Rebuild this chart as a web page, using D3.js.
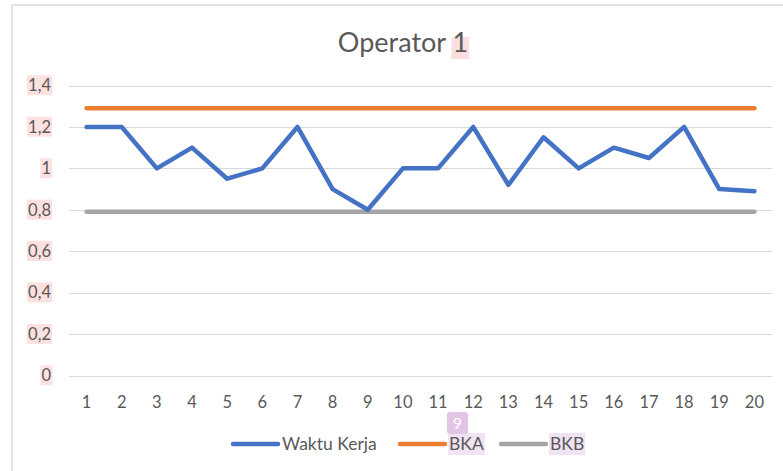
<!DOCTYPE html>
<html>
<head>
<meta charset="utf-8">
<script src="https://cdn.jsdelivr.net/npm/d3@7"></script>
<style>
  body { margin: 0; background: #fff; }
  text { font-family: Lato, "Open Sans", sans-serif; fill: #595959; }
</style>
</head>
<body>
<script>
var width = 783,
    height = 471;

// data
var categories = d3.range(1, 21);
var waktuKerja = [1.2, 1.2, 1.0, 1.1, 0.95, 1.0, 1.2, 0.9, 0.8, 1.0,
                  1.0, 1.2, 0.92, 1.15, 1.0, 1.1, 1.05, 1.2, 0.9, 0.89];
var bka = 1.29;
var bkb = 0.79;
var yTicks = [0, 0.2, 0.4, 0.6, 0.8, 1, 1.2, 1.4];
var seriesNames = ["Waktu Kerja", "BKA", "BKB"];
var colors = ["#4472C4", "#ED7D31", "#A5A5A5"];

var fmt = function (d) { return String(d).replace(".", ","); };

var svg = d3.select("body").append("svg")
    .attr("width", width)
    .attr("height", height);

// chart border (left + top only visible)
svg.append("path")
    .attr("d", "M12,471 L12,5 L783,5")
    .attr("fill", "none")
    .attr("stroke", "#e3e3e3")
    .attr("stroke-width", 2);

var x = d3.scaleBand()
    .domain(categories)
    .range([69, 772]);

var y = d3.scaleLinear()
    .domain([0, 1.4])
    .range([375.5, 85.5]);

// gridlines
svg.append("g")
    .selectAll("line")
    .data(yTicks)
    .enter().append("line")
    .attr("x1", 69)
    .attr("x2", 772)
    .attr("y1", function (d) { return Math.round(y(d)) + 0.5; })
    .attr("y2", function (d) { return Math.round(y(d)) + 0.5; })
    .attr("stroke", "#d9d9d9")
    .attr("stroke-width", 1);

// y labels with pink highlight
var yl = svg.append("g").selectAll("g")
    .data(yTicks)
    .enter().append("g")
    .attr("transform", function (d) { return "translate(51," + y(d) + ")"; });

yl.append("text")
    .attr("text-anchor", "end")
    .attr("dy", "0.35em")
    .attr("font-size", 16.5)
    .text(fmt)
    .each(function () {
        var b = this.getBBox();
        d3.select(this.parentNode).insert("rect", "text")
            .attr("x", b.x - 1)
            .attr("y", b.y)
            .attr("width", b.width + 2)
            .attr("height", b.height)
            .attr("fill", "#fde0e0");
    });

// x labels
svg.append("g")
    .selectAll("text")
    .data(categories)
    .enter().append("text")
    .attr("x", function (d) { return x(d) + x.bandwidth() / 2; })
    .attr("y", 408)
    .attr("text-anchor", "middle")
    .attr("font-size", 16.5)
    .text(function (d) { return d; });

var cx = function (d, i) { return x(categories[i]) + x.bandwidth() / 2; };

// limit lines
[bka, bkb].forEach(function (v, k) {
    svg.append("path")
        .datum(categories.map(function () { return v; }))
        .attr("fill", "none")
        .attr("stroke", colors[k + 1])
        .attr("stroke-width", 4.5)
        .attr("stroke-linecap", "round")
        .attr("d", d3.line().x(cx).y(function (d) { return y(d); }));
});

// main series
svg.append("path")
    .datum(waktuKerja)
    .attr("fill", "none")
    .attr("stroke", colors[0])
    .attr("stroke-width", 4.5)
    .attr("stroke-linecap", "round")
    .attr("stroke-linejoin", "round")
    .attr("d", d3.line().x(cx).y(function (d) { return y(d); }));

// title
var title = svg.append("text")
    .attr("x", 403)
    .attr("y", 52)
    .attr("text-anchor", "middle")
    .attr("font-size", 27);
title.append("tspan").text("Operator ");
var one = title.append("tspan").text("1");
(function () {
    var b = title.node().getBBox();
    var w1 = one.node().getComputedTextLength();
    svg.insert("rect", function () { return title.node(); })
        .attr("x", b.x + b.width - w1 - 1)
        .attr("y", 37)
        .attr("width", w1 + 2)
        .attr("height", 22)
        .attr("fill", "#fbdede");
})();

// legend
var legendX = [233, 400, 501];
var lg = svg.append("g").selectAll("g")
    .data(seriesNames)
    .enter().append("g")
    .attr("transform", function (d, i) { return "translate(" + legendX[i] + ",444)"; });

lg.append("line")
    .attr("x1", 0).attr("x2", 45)
    .attr("stroke", function (d, i) { return colors[i]; })
    .attr("stroke-width", 4.5)
    .attr("stroke-linecap", "round");

lg.append("text")
    .attr("x", 49)
    .attr("dy", "0.35em")
    .attr("font-size", 17.5)
    .text(function (d) { return d; })
    .each(function (d, i) {
        if (i === 0) return;
        var b = this.getBBox();
        d3.select(this.parentNode).insert("rect", "text")
            .attr("x", b.x - 1)
            .attr("y", -11)
            .attr("width", b.width + 2)
            .attr("height", 22)
            .attr("fill", "#f1e3f3");
    });

// small badge above BKA
svg.append("rect")
    .attr("x", 447).attr("y", 412)
    .attr("width", 21).attr("height", 22)
    .attr("rx", 3)
    .attr("fill", "#e2c4e4");
svg.append("text")
    .attr("x", 457.5).attr("y", 429)
    .attr("text-anchor", "middle")
    .attr("font-size", 16)
    .style("fill", "#fff")
    .text("9");
</script>
</body>
</html>
